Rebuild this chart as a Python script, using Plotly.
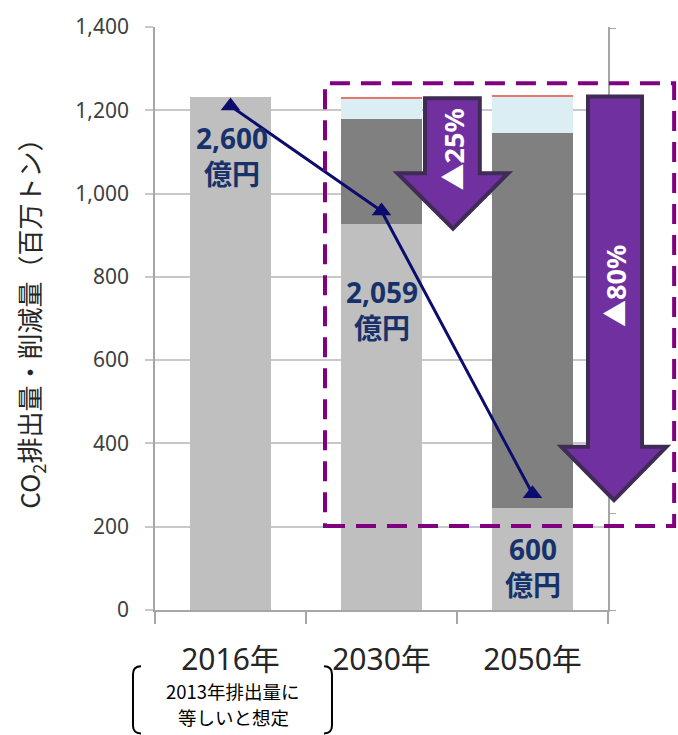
import plotly.graph_objects as go

# Categories and values
years = ["2016年", "2030年", "2050年"]
emission_base = [1232, 928, 244]      # remaining emissions (light gray)
reduction_main = [0, 251, 902]        # reduction (dark gray)
reduction_other = [0, 50, 86]         # reduction (light blue)
reduction_misc = [0, 4, 4]            # reduction (red)
cost_oku_yen = [2600, 2059, 600]      # cost, 億円 (secondary axis)
y_ticks = [0, 200, 400, 600, 800, 1000, 1200, 1400]
reduction_labels = ["▲25%", "▲80%"]

FONT = "Noto Sans, Noto Sans CJK JP, sans-serif"
JP = "Noto Sans CJK JP, sans-serif"
NAVY_TXT = "#17326B"
PURPLE = "#7030A0"
PURPLE_EDGE = "#3F2B56"

fig = go.Figure()

fig.add_trace(go.Bar(x=years, y=emission_base, marker_color="#BFBFBF", width=0.54,
                     marker_line_width=0, showlegend=False))
fig.add_trace(go.Bar(x=years, y=reduction_main, marker_color="#808080", width=0.54,
                     marker_line_width=0, showlegend=False))
fig.add_trace(go.Bar(x=years, y=reduction_other, marker_color="#DAEEF3", width=0.54,
                     marker_line_width=0, showlegend=False))
fig.add_trace(go.Bar(x=years, y=reduction_misc, marker_color="#E8766E", width=0.54,
                     marker_line_width=0, showlegend=False))

fig.add_trace(go.Scatter(
    x=years, y=cost_oku_yen, yaxis="y2", mode="lines+markers",
    line=dict(color="#0C0C6E", width=3),
    marker=dict(symbol="triangle-up", size=17, color="#0C0C6E"),
    showlegend=False))

# cost labels next to each marker (two lines: amount / unit)
label_pos = [(0.01, 1090), (1.0, 720), (2.0, 103)]
annotations = []
for (xv, yv), c in zip(label_pos, cost_oku_yen):
    annotations.append(dict(x=xv, y=yv, xref="x", yref="y",
                            text=f"<b>{c:,}</b><br><b>億円</b>",
                            xanchor="center", yanchor="middle", showarrow=False,
                            font=dict(family=FONT, size=28, color=NAVY_TXT)))

# reduction arrows
def arrow_path(xl, xr, hl, hr, xt, ytop, yhead, ytip):
    return (f"M {xl} {ytop} L {xr} {ytop} L {xr} {yhead} L {hr} {yhead} "
            f"L {xt} {ytip} L {hl} {yhead} L {xl} {yhead} Z")

shapes = [
    dict(type="rect", xref="paper", yref="y", x0=0.3753, x1=1.146, y0=202, y1=1265,
         line=dict(color="#800080", width=4, dash="20px,11px"), layer="above"),
    dict(type="path", xref="paper", yref="y",
         path=arrow_path(0.596, 0.717, 0.535, 0.780, 0.6578, 1229, 1049, 916),
         fillcolor=PURPLE, line=dict(color=PURPLE_EDGE, width=4), layer="above"),
    dict(type="path", xref="paper", yref="y",
         path=arrow_path(0.9558, 1.0751, 0.897, 1.129, 1.0132, 1233, 392, 264),
         fillcolor=PURPLE, line=dict(color=PURPLE_EDGE, width=4), layer="above"),
]

annotations += [
    dict(x=0.6578, y=1106, xref="paper", yref="y", text=f"<b>{reduction_labels[0]}</b>",
         xanchor="center", yanchor="middle", textangle=-90, showarrow=False,
         font=dict(family=FONT, size=27, color="white")),
    dict(x=1.0154, y=778, xref="paper", yref="y", text=f"<b>{reduction_labels[1]}</b>",
         xanchor="center", yanchor="middle", textangle=-90, showarrow=False,
         font=dict(family=FONT, size=27, color="white")),
]

# bracketed note under 2016
shapes += [
    dict(type="path", xref="paper", yref="paper", line=dict(color="black", width=2),
         path="M -0.0309 -0.0966 Q -0.0486 -0.0966 -0.0486 -0.1102 L -0.0486 -0.1983 "
              "Q -0.0486 -0.2119 -0.0309 -0.2119"),
    dict(type="path", xref="paper", yref="paper", line=dict(color="black", width=2),
         path="M 0.3731 -0.0966 Q 0.3907 -0.0966 0.3907 -0.1102 L 0.3907 -0.1983 "
              "Q 0.3907 -0.2119 0.3731 -0.2119"),
]
annotations += [
    dict(x=0.1722, y=-0.139, xref="paper", yref="paper", text="2013年排出量に",
         xanchor="center", yanchor="middle", showarrow=False,
         font=dict(family=JP, size=18.5, color="black")),
    dict(x=0.1722, y=-0.183, xref="paper", yref="paper", text="等しいと想定",
         xanchor="center", yanchor="middle", showarrow=False,
         font=dict(family=JP, size=18.5, color="black")),
    dict(x=-0.276, y=0.503, xref="paper", yref="paper", textangle=-90,
         xanchor="center", yanchor="middle",
         text="CO<sub>2</sub>排出量・削減量（百万トン）", showarrow=False,
         font=dict(family=JP, size=26, color="#262626")),
]

fig.update_layout(
    width=678, height=735,
    margin=dict(l=155, r=70, t=20, b=125),
    paper_bgcolor="white", plot_bgcolor="white",
    barmode="stack", bargap=0.46,
    font=dict(family=FONT),
    xaxis=dict(range=[-0.5, 2.5], showline=True, linecolor="#A6A6A6", linewidth=1.5,
               ticks="outside", tickson="boundaries", ticklen=12, tickcolor="#A6A6A6",
               tickwidth=1.5, tickfont=dict(family=FONT, size=30, color="#262626"),
               ticklabelstandoff=22),
    yaxis=dict(range=[0, 1400], tickvals=y_ticks, tickformat=",d",
               showgrid=True, gridcolor="#C8C8C8", gridwidth=1.5,
               showline=True, linecolor="#A6A6A6", linewidth=1.5, zeroline=False,
               ticks="outside", ticklen=8, tickcolor="#C8C8C8", tickwidth=1.5,
               tickfont=dict(family=FONT, size=21, color="#404040"),
               ticklabelstandoff=12),
    yaxis2=dict(range=[0, 3008], overlaying="y", side="right", showgrid=False,
                zeroline=False, showline=True, linecolor="#A6A6A6", linewidth=1.5,
                ticks="outside", ticklen=6, dtick=500, tickcolor="#A6A6A6",
                showticklabels=False),
    shapes=shapes,
    annotations=annotations,
)

fig.write_html("out.html")
